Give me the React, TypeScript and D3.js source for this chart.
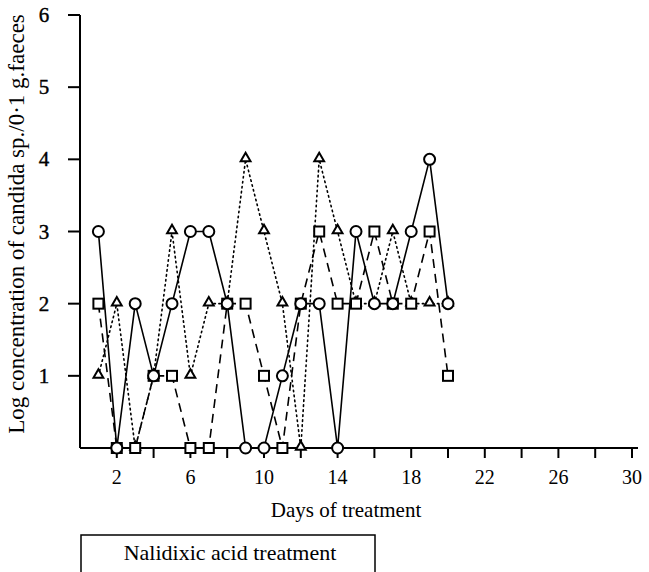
import React from "react";
import * as d3 from "d3";

const days = [1, 2, 3, 4, 5, 6, 7, 8, 9, 10, 11, 12, 13, 14, 15, 16, 17, 18, 19, 20];
const circleSeries = [3, 0, 2, 1, 2, 3, 3, 2, 0, 0, 1, 2, 2, 0, 3, 2, 2, 3, 4, 2];
const triangleSeries = [1, 2, 0, 1, 3, 1, 2, 2, 4, 3, 2, 0, 4, 3, 2, 2, 3, 2, 2, 2];
const squareSeries = [2, 0, 0, 1, 1, 0, 0, 2, 2, 1, 0, 2, 3, 2, 2, 3, 2, 2, 3, 1];
const yTicks = [1, 2, 3, 4, 5, 6];
const xTicks = [2, 4, 6, 8, 10, 12, 14, 16, 18, 20, 22, 24, 26, 28, 30];
const xLabels = [2, 6, 10, 14, 18, 22, 26, 30];
const yTitle = "Log concentration of candida sp./0·1 g.faeces";
const xTitle = "Days of treatment";
const boxText = "Nalidixic acid treatment";

const FONT = "'Liberation Serif', 'DejaVu Serif', serif";

export default function App() {
  const W = 649, H = 572;
  const x = d3.scaleLinear().domain([0, 30]).range([80, 632]);
  const y = d3.scaleLinear().domain([0, 6]).range([448, 15]);
  const line = d3.line<[number, number]>().x(d => x(d[0])).y(d => y(d[1]));
  const pts = (s: number[]) => days.map((d, i) => [d, s[i]] as [number, number]);
  const tri = d3.symbol().type(d3.symbolTriangle).size(42);

  return (
    <svg width={W} height={H} style={{ position: "absolute", left: 0, top: 0 }} fontFamily={FONT}>
      <rect width={W} height={H} fill="#fff" />
      {/* axes */}
      <line x1={x(0)} x2={x(0)} y1={y(6)} y2={y(0)} stroke="#000" strokeWidth={2} />
      <line x1={x(0)} x2={x(30) + 6} y1={y(0)} y2={y(0)} stroke="#000" strokeWidth={2} />
      {yTicks.map(t => (
        <g key={"yt" + t}>
          <line x1={x(0) - 12} x2={x(0)} y1={y(t)} y2={y(t)} stroke="#000" strokeWidth={2} />
          <text x={44} y={y(t) + 7} fontSize={21} textAnchor="middle" stroke="#000" strokeWidth={0.4}>{t}</text>
        </g>
      ))}
      {xTicks.map(t => (
        <line key={"xt" + t} x1={x(t)} x2={x(t)} y1={y(0)} y2={y(0) + 10} stroke="#000" strokeWidth={2} />
      ))}
      {xLabels.map(t => (
        <text key={"xl" + t} x={x(t)} y={484} fontSize={20} textAnchor="middle">{t}</text>
      ))}
      <text x={346} y={517} fontSize={21} textAnchor="middle">{xTitle}</text>
      <text transform={`translate(24,224) rotate(-90)`} fontSize={23} textAnchor="middle">{yTitle}</text>
      {/* box */}
      <rect x={81} y={535} width={294} height={40} fill="none" stroke="#000" strokeWidth={1.5} />
      <text x={230} y={560} fontSize={22} textAnchor="middle">{boxText}</text>

      {/* lines */}
      <path d={line(pts(triangleSeries)) || ""} fill="none" stroke="#000" strokeWidth={1.6} strokeDasharray="1.5 3.5" strokeLinecap="round" />
      <path d={line(pts(squareSeries)) || ""} fill="none" stroke="#000" strokeWidth={1.6} strokeDasharray="9 6" />
      <path d={line(pts(circleSeries)) || ""} fill="none" stroke="#000" strokeWidth={1.6} />

      {/* markers */}
      {pts(triangleSeries).map(([d, v], i) => (
        <path key={"t" + i} d={tri() || ""} transform={`translate(${x(d)},${y(v) - 1})`} fill="#fff" stroke="#000" strokeWidth={2} />
      ))}
      {pts(squareSeries).map(([d, v], i) => (
        <rect key={"s" + i} x={x(d) - 5} y={y(v) - 5} width={10} height={10} fill="#fff" stroke="#000" strokeWidth={2} />
      ))}
      {pts(circleSeries).map(([d, v], i) => (
        <circle key={"c" + i} cx={x(d)} cy={y(v)} r={5.5} fill="#fff" stroke="#000" strokeWidth={2} />
      ))}
    </svg>
  );
}
